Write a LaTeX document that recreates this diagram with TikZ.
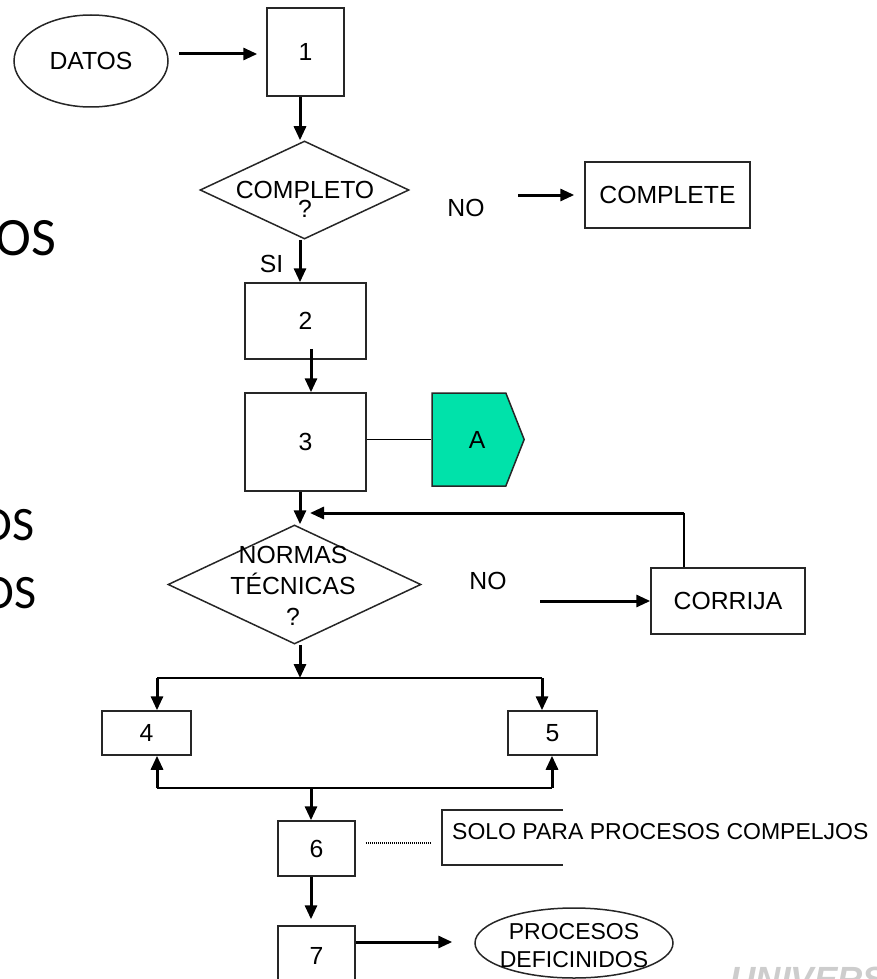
\documentclass[tikz,border=0pt]{standalone}
\usepackage{fontspec}
\setmainfont{Liberation Sans}
\newfontfamily\slidefont{Carlito}
\usetikzlibrary{shapes.geometric,shapes.symbols,arrows.meta}
\definecolor{conector}{RGB}{0,226,170}
\definecolor{marca}{RGB}{205,205,205}

\begin{document}
\begin{tikzpicture}[
    x=1pt, y=-1pt,
    font=\fontsize{24.75}{29}\selectfont,
    box/.style={draw=black!85, line width=1.5pt, inner sep=0},
    decision/.style={diamond, draw=black!85, line width=1.5pt, inner sep=0},
    terminal/.style={ellipse, draw=black!85, line width=1.5pt, inner sep=0},
    flow/.style={-{Triangle[length=14pt,width=12pt]}, line width=3pt},
    link/.style={line width=1.8pt},
    note/.style={font=\fontsize{23}{28}\selectfont, inner sep=0}
  ]
  \clip (0,0) rectangle (876,979);

  % Slide text behind the chart
  \node[anchor=base east, font=\slidefont\fontsize{54}{54}\selectfont] (title) at (60,255) {OS};
  \node[anchor=base east, font=\slidefont\fontsize{48}{48}\selectfont] (item1) at (38,540) {OS};
  \node[anchor=base east, font=\slidefont\fontsize{48}{48}\selectfont] (item2) at (40,608) {OS};
  \node[anchor=base west, text=marca, font=\fontsize{35}{35}\bfseries\itshape\selectfont] (mark) at (727,991) {UNIVERS};

  % Steps
  \node[terminal, minimum width=154, minimum height=92] (datos) at (91,61) {DATOS};
  \node[box, minimum width=77, minimum height=88] (b1) at (305.5,52) {1};
  \node[decision, minimum width=209, minimum height=98] (completo) at (304.5,190) {};
  \node[align=center, font=\fontsize{24.75}{19}\selectfont] (completo-q) at (305,199.5) {COMPLETO\\?};
  \node[box, minimum width=165, minimum height=66] (complete) at (667.5,195) {COMPLETE};
  \node (no1) at (466,208) {NO};
  \node (si) at (271.5,263.5) {SI};
  \node[box, minimum width=121, minimum height=76] (b2) at (305.5,321) {2};
  \node[box, minimum width=121, minimum height=98] (b3) at (305.5,442) {3};
  \node[signal, signal pointer angle=137, fill=conector, draw=black!85, line width=1.5pt,
        minimum width=92, minimum height=93, inner sep=0] (a) at (469,439.5) {\hspace*{16pt}A};
  \node[decision, minimum width=253, minimum height=119] (normas) at (294.5,584.5) {};
  \node[align=center, font=\fontsize{24.75}{31}\selectfont] (normas-q) at (293,586) {NORMAS\\TÉCNICAS\\?};
  \node (no2) at (488,581) {NO};
  \node[box, minimum width=154, minimum height=66] (corrija) at (728,601) {CORRIJA};
  \node[box, minimum width=89, minimum height=44] (b4) at (146.5,733) {4};
  \node[box, minimum width=89, minimum height=44] (b5) at (552.5,733) {5};
  \node[box, minimum width=77, minimum height=55] (b6) at (316.5,848.5) {6};
  \node[box, minimum width=77, minimum height=59] (b7) at (316.5,955.5) {7};
  \node[note, anchor=west] (solo) at (452,832) {SOLO PARA PROCESOS COMPELJOS};
  \node[terminal, minimum width=198, minimum height=70] (fin) at (574,943) {};
  \node[note, align=center] (fin-txt) at (574,946) {PROCESOS\\DEFICINIDOS};

  % Free ends and branch points
  \coordinate (no1-tail) at (518,195);
  \coordinate (no2-tail) at (540,601);
  \coordinate (back) at (684,513);
  \coordinate (back-tip) at (310,513);
  \coordinate (split) at (300,678);
  \coordinate (split-l) at (157,678);
  \coordinate (split-r) at (542,678);
  \coordinate (join) at (311,788);
  \coordinate (join-l) at (157,788);
  \coordinate (join-r) at (552,788);

  % Main flow
  \draw[flow, shorten <=10pt, shorten >=9pt] ([yshift=7pt]datos.east) -- ([yshift=-2pt]b1.west);
  \foreach \from/\to/\dx in {b1/completo/-5.5, completo/b2/-4.5, b3/normas/-5.5}
    \draw[flow] ([xshift=\dx pt]\from.south) -- ([xshift=\dx pt]\from.south |- \to.north);
  \draw[flow] ([xshift=5.5pt,yshift=11pt]b2.south) -- ([xshift=5.5pt]b3.north);
  \draw[flow, shorten >=10pt] (no1-tail) -- (complete.west);
  \draw[line width=1.3pt] (b3.east |- a) -- (a.west);

  % Correction loop
  \draw[flow] (no2-tail) -- (corrija.west);
  \draw[link] (corrija.north -| back) -- (back);
  \draw[flow] (back) -- (back-tip);

  % Branches to 4 and 5
  \draw[flow] ([xshift=5.5pt]normas.south) -- (split);
  \draw[link] (split-l) -- (split-r);
  \draw[link, line width=2.3pt] (join-l) -- (join-r);
  \foreach \p/\q in {split-l/b4.north, split-r/b5.north, join-l/b4.south, join-r/b5.south, join/b6.north}
    \draw[flow] (\p) -- (\p |- \q);

  % End of the process
  \draw[flow, shorten >=6pt] ([xshift=-5.5pt]b6.south) -- ([xshift=-5.5pt]b7.north);
  \draw[flow, shorten >=22pt] ([yshift=13.5pt]b7.east) -- ([yshift=13.5pt]b7.east -| fin.west);
  \draw[line width=1.5pt, dash pattern=on 1.2pt off 0.8pt] ([xshift=10pt,yshift=5.5pt]b6.east) -- ([xshift=-22pt,yshift=-11pt]solo.west);
  \draw[line width=1.3pt, draw=black!85] ([xshift=111pt,yshift=22pt]solo.west) -| ([xshift=-10pt,yshift=-33pt]solo.west) -- ++(121,0);
\end{tikzpicture}
\end{document}
